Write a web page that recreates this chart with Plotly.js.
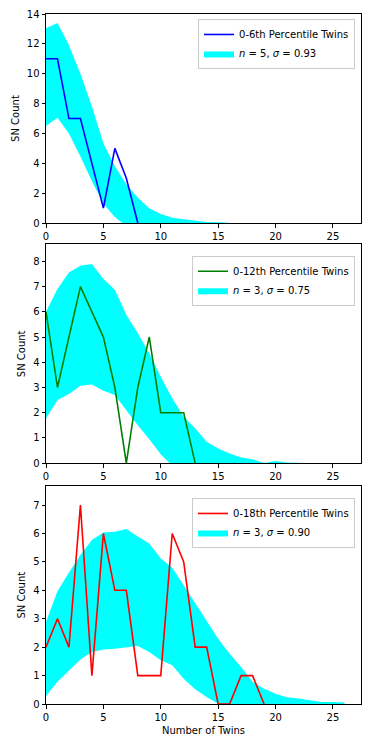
<!DOCTYPE html>
<html>
<head>
<meta charset="utf-8">
<script src="https://cdn.plot.ly/plotly-3.0.1.min.js"></script>
<style>
  body { margin: 0; background: #fff; }
  #graph { width: 374px; height: 747px; }
</style>
</head>
<body>
<div id="graph"></div>
<script>
// panel 1: 0-6th percentile
var twins1 = [0, 1, 2, 3, 4, 5, 6, 7, 8];
var count1 = [11, 11, 7, 7, 4, 1, 5, 3, 0];
var bandX1 = [0, 1, 2, 3, 4, 5, 6, 7, 8, 9, 10, 11, 12, 13, 14, 15, 16];
var upper1 = [13.05, 13.4, 11.9, 10.0, 7.8, 5.35, 3.8, 2.6, 1.7, 1.0, 0.6, 0.35, 0.25, 0.15, 0.08, 0.05, 0.02];
var lower1 = [6.5, 7.05, 6.0, 4.45, 2.8, 1.3, 0.4, -0.2, -0.3, -0.3, -0.3, -0.3, -0.3, -0.3, -0.3, -0.3, -0.3];

// panel 2: 0-12th percentile
var twins2 = [0, 1, 2, 3, 4, 5, 6, 7, 8, 9, 10, 11, 12, 13];
var count2 = [6, 3, 5, 7, 6, 5, 3, 0, 3, 5, 2, 2, 2, 0];
var bandX2 = [0, 1, 2, 3, 4, 5, 6, 7, 8, 9, 10, 11, 12, 13, 14, 15, 16, 17, 18, 19, 20, 21, 22];
var upper2 = [6.0, 6.9, 7.56, 7.83, 7.9, 7.3, 6.87, 5.88, 5.15, 4.36, 3.43, 2.57, 1.84, 1.38, 0.85, 0.58, 0.38, 0.23, 0.16, 0.01, 0.09, 0.03, 0.02];
var lower2 = [1.77, 2.5, 2.74, 3.07, 3.12, 2.87, 2.7, 2.1, 1.5, 0.95, 0.35, -0.1, -0.3, -0.3, -0.3, -0.3, -0.3, -0.3, -0.3, -0.3, -0.3, -0.3, -0.3];

// panel 3: 0-18th percentile
var twins3 = [0, 1, 2, 3, 4, 5, 6, 7, 8, 9, 10, 11, 12, 13, 14, 15, 16, 17, 18, 19];
var count3 = [2, 3, 2, 7, 1, 6, 4, 4, 1, 1, 1, 6, 5, 2, 2, 0, 0, 1, 1, 0];
var bandX3 = [0, 1, 2, 3, 4, 5, 6, 7, 8, 9, 10, 11, 12, 13, 14, 15, 16, 17, 18, 19, 20, 21, 22, 23, 24, 25, 26];
var upper3 = [2.89, 3.97, 4.63, 5.24, 5.77, 6.03, 6.06, 6.16, 5.89, 5.65, 5.12, 4.79, 4.18, 3.54, 2.89, 2.3, 1.77, 1.3, 0.78, 0.54, 0.36, 0.24, 0.19, 0.13, 0.07, 0.07, 0.05];
var lower3 = [0.28, 0.78, 1.19, 1.57, 1.83, 1.92, 1.94, 1.99, 2.04, 1.83, 1.54, 1.36, 0.89, 0.52, 0.25, 0.01, -0.2, -0.3, -0.3, -0.3, -0.3, -0.3, -0.3, -0.3, -0.3, -0.3, -0.3];

var lineNames = ['0-6th Percentile Twins', '0-12th Percentile Twins', '0-18th Percentile Twins'];
var bandNames = ['<i>n</i> = 5, <i>σ</i> = 0.93', '<i>n</i> = 3, <i>σ</i> = 0.75', '<i>n</i> = 3, <i>σ</i> = 0.90'];
var lineColors = ['#0000ff', '#008000', '#ff0000'];

var FONT = 'DejaVu Sans, sans-serif';
var FSIZE = 10;

function bandTrace(xs, up, lo, name, idx)
{
  var px = xs.slice();
  var py = up.slice();
  for (var i = xs.length - 1; i >= 0; i--) {
    px.push(xs[i]);
    py.push(lo[i]);
  }
  return {
    x: px, y: py,
    type: 'scatter', mode: 'lines',
    fill: 'toself', fillcolor: '#00ffff',
    line: { width: 0, color: '#00ffff' },
    name: name,
    legendrank: 2,
    xaxis: idx == 1 ? 'x' : 'x' + idx,
    yaxis: idx == 1 ? 'y' : 'y' + idx,
    legend: idx == 1 ? 'legend' : 'legend' + idx,
    hoverinfo: 'skip'
  };
}

function lineTrace(xs, ys, name, color, idx)
{
  return {
    x: xs, y: ys,
    type: 'scatter', mode: 'lines',
    line: { color: color, width: 1.6 },
    name: name,
    legendrank: 1,
    xaxis: idx == 1 ? 'x' : 'x' + idx,
    yaxis: idx == 1 ? 'y' : 'y' + idx,
    legend: idx == 1 ? 'legend' : 'legend' + idx
  };
}

var data = [
  bandTrace(bandX1, upper1, lower1, bandNames[0], 1),
  lineTrace(twins1, count1, lineNames[0], lineColors[0], 1),
  bandTrace(bandX2, upper2, lower2, bandNames[1], 2),
  lineTrace(twins2, count2, lineNames[1], lineColors[1], 2),
  bandTrace(bandX3, upper3, lower3, bandNames[2], 3),
  lineTrace(twins3, count3, lineNames[2], lineColors[2], 3)
];

function xAxis(anchor, withTitle)
{
  var ax = {
    anchor: anchor,
    domain: [0, 1],
    range: [0, 27.45],
    tickmode: 'linear', tick0: 0, dtick: 5,
    ticks: 'outside', ticklen: 3.5, tickwidth: 1, tickcolor: '#000',
    showline: true, linecolor: '#000', linewidth: 1, mirror: true,
    showgrid: false, zeroline: false,
    tickfont: { family: FONT, size: FSIZE, color: '#000' }
  };
  if (withTitle) {
    ax.title = { text: 'Number of Twins', font: { family: FONT, size: FSIZE, color: '#000' }, standoff: 5 };
  }
  return ax;
}

function yAxis(anchor, dom, top, step)
{
  return {
    anchor: anchor,
    domain: dom,
    range: [0, top],
    tickmode: 'linear', tick0: 0, dtick: step,
    ticks: 'outside', ticklen: 3.5, tickwidth: 1, tickcolor: '#000',
    showline: true, linecolor: '#000', linewidth: 1, mirror: true,
    showgrid: false, zeroline: false,
    tickfont: { family: FONT, size: FSIZE, color: '#000' },
    title: { text: 'SN Count', font: { family: FONT, size: FSIZE, color: '#000' }, standoff: 5 }
  };
}

function legendBox(top)
{
  return {
    x: 0.981, xanchor: 'right',
    y: top, yanchor: 'top',
    bgcolor: 'rgba(255,255,255,0.8)',
    bordercolor: '#cccccc', borderwidth: 1,
    font: { family: FONT, size: FSIZE, color: '#000' },
    tracegroupgap: 0
  };
}

var layout = {
  width: 374, height: 747,
  margin: { l: 46, r: 13, t: 14, b: 43 },
  paper_bgcolor: '#fff', plot_bgcolor: '#fff',
  showlegend: true,
  font: { family: FONT, size: FSIZE, color: '#000' },
  xaxis: xAxis('y', false),
  yaxis: yAxis('x', [0.697, 1.0], 14, 2),
  xaxis2: xAxis('y2', false),
  yaxis2: yAxis('x2', [0.349, 0.666], 8.67, 1),
  xaxis3: xAxis('y3', true),
  yaxis3: yAxis('x3', [0, 0.3155], 7.66, 1),
  legend: legendBox(0.9928),
  legend2: legendBox(0.6497),
  legend3: legendBox(0.2986)
};

Plotly.newPlot('graph', data, layout, { displayModeBar: false, staticPlot: true });
</script>
</body>
</html>
